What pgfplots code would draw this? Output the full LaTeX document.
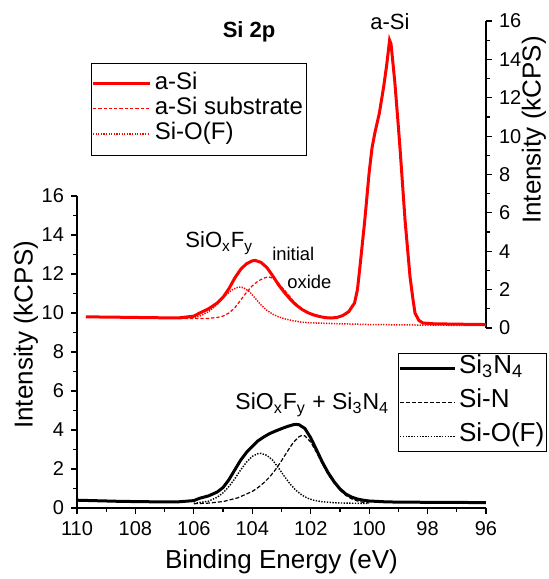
\documentclass[border=0pt]{standalone}
\usepackage{fontspec}
\setmainfont{Liberation Sans}
\usepackage{pgfplots}
\pgfplotsset{compat=1.18}
\usepackage{pgfplotstable}

% ---- black (Si3N4) series, left axis ----
\pgfplotstableread{
E V
110.0 0.40
109.5 0.38
109.0 0.36
108.5 0.34
108.0 0.33
107.5 0.32
107.0 0.31
106.5 0.32
106.0 0.38
105.8 0.50
105.5 0.62
105.2 0.82
105.0 1.05
104.8 1.45
104.6 1.95
104.4 2.45
104.2 2.85
104.0 3.15
103.8 3.45
103.6 3.65
103.4 3.82
103.2 3.95
103.0 4.07
102.8 4.18
102.6 4.27
102.5 4.29
102.4 4.27
102.2 4.08
102.0 3.60
101.8 2.98
101.6 2.35
101.4 1.80
101.2 1.35
101.0 0.98
100.8 0.72
100.6 0.56
100.4 0.46
100.2 0.40
100.0 0.36
99.5 0.32
99.0 0.30
98.5 0.30
98.0 0.29
97.5 0.29
97.0 0.29
96.5 0.28
96.0 0.28
}\tabSiN

\pgfplotstableread{
E V
106.0 0.22
105.5 0.25
105.0 0.33
104.5 0.52
104.0 0.85
103.8 1.05
103.6 1.30
103.4 1.60
103.2 1.98
103.0 2.42
102.8 2.90
102.6 3.35
102.4 3.66
102.3 3.72
102.2 3.70
102.0 3.38
101.8 2.85
101.6 2.25
101.4 1.72
101.2 1.28
101.0 0.92
100.8 0.65
100.6 0.47
100.4 0.36
100.2 0.29
100.0 0.26
}\tabSiNcomp

\pgfplotstableread{
E V
106.0 0.24
105.5 0.35
105.2 0.55
105.0 0.78
104.8 1.10
104.6 1.50
104.4 1.95
104.2 2.35
104.0 2.65
103.8 2.79
103.7 2.80
103.5 2.70
103.3 2.45
103.1 2.05
102.9 1.62
102.7 1.22
102.5 0.90
102.3 0.66
102.1 0.50
101.9 0.40
101.6 0.32
101.2 0.27
100.8 0.25
100.4 0.24
100.0 0.23
}\tabSiOblack

% ---- red (a-Si) series, right axis ----
\pgfplotstableread{
E V
109.7 0.58
109.0 0.57
108.5 0.56
108.0 0.55
107.5 0.54
107.0 0.53
106.5 0.53
106.0 0.62
105.8 0.78
105.5 1.00
105.2 1.30
105.0 1.60
104.8 2.05
104.6 2.60
104.4 3.05
104.2 3.35
104.0 3.50
103.9 3.52
103.7 3.42
103.5 3.15
103.3 2.72
103.1 2.25
102.9 1.85
102.7 1.50
102.5 1.20
102.3 0.97
102.1 0.80
101.9 0.68
101.7 0.60
101.5 0.54
101.3 0.52
101.1 0.55
100.9 0.65
100.7 0.85
100.5 1.30
100.4 2.00
100.3 3.40
100.15 5.60
100.0 8.10
99.9 9.40
99.8 10.20
99.65 11.20
99.5 12.60
99.4 13.70
99.3 15.00
99.25 14.80
99.12 12.80
99.0 10.50
98.94 9.30
98.77 5.60
98.6 2.66
98.5 1.50
98.43 0.78
98.3 0.40
98.16 0.26
97.8 0.22
97.0 0.20
96.0 0.18
}\tabASi

\pgfplotstableread{
E V
106.5 0.50
106.0 0.50
105.5 0.50
105.2 0.55
105.0 0.62
104.8 0.78
104.6 1.05
104.4 1.45
104.2 1.85
104.0 2.20
103.8 2.45
103.6 2.60
103.45 2.67
103.3 2.60
103.15 2.42
103.0 2.15
102.8 1.80
102.6 1.42
102.4 1.12
102.2 0.90
102.0 0.76
101.8 0.66
101.6 0.59
101.4 0.55
101.2 0.54
101.0 0.57
}\tabSub

\pgfplotstableread{
E V
106.5 0.50
106.0 0.54
105.8 0.62
105.5 0.85
105.3 1.10
105.1 1.40
104.9 1.72
104.7 1.98
104.5 2.12
104.4 2.13
104.3 2.10
104.1 1.90
103.9 1.55
103.7 1.20
103.5 0.92
103.3 0.72
103.1 0.58
102.9 0.48
102.6 0.38
102.3 0.30
102.0 0.27
101.0 0.22
100.0 0.18
98.0 0.15
96.0 0.13
}\tabSiOred

\pgfplotsset{
  commonstyle/.style={
    scale only axis, width=204.5pt,
    xmin=96, xmax=110, x dir=reverse,
    ymin=0, ymax=16,
    ytick={0,2,...,16}, minor y tick num=1,
    axis line style={-, line width=0.65pt},
    tick style={black, line width=0.6pt},
    major tick length=3pt, minor tick length=1.8pt,
    /pgf/number format/assume math mode=true,
    tick label style={font=\fontsize{10}{12}\selectfont},
    label style={font=\fontsize{13}{15}\selectfont},
    legend cell align=left,
  },
}

\begin{document}
\begin{tikzpicture}
\useasboundingbox (-38.5pt,-35.5pt) rectangle (236pt,254pt);

% ---------------- lower (black) axis ----------------
\begin{axis}[
  commonstyle, height=156pt,
  axis x line*=bottom, axis y line*=left,
  tick align=outside,
  xtick={96,98,...,110}, minor x tick num=1,
  xlabel={Binding Energy (eV)},
  ylabel={Intensity (kCPS)},
  xlabel style={at={(rel axis cs:0.5,-0.173)}, anchor=center},
  ylabel style={at={(rel axis cs:-0.1247,0.555)}, anchor=center},
  legend image code/.code={\draw[#1] (0pt,0pt) -- (27.5pt,0pt);},
  legend style={at={(rel axis cs:0.785,0.497)}, anchor=north west,
    draw=black, line width=0.5pt, fill=white,
    font=\fontsize{13}{15}\selectfont,
    inner xsep=0pt, inner ysep=1.5pt, row sep=5pt, column sep=0pt,
    nodes={inner xsep=1.25pt, inner ysep=1pt, text height=0.75em, text depth=0.25em}},
]
\addlegendimage{black, line width=1.5pt}
\addlegendentry{Si\textsubscript{3}N\textsubscript{4}}
\addlegendimage{black, line width=0.6pt, dash pattern=on 2pt off 1pt}
\addlegendentry{Si-N}
\addlegendimage{black, line width=0.7pt, dash pattern=on 0.7pt off 0.7pt}
\addlegendentry{Si-O(F)}

\addplot[black, line width=0.6pt, dash pattern=on 2pt off 1pt, forget plot] table[x=E,y=V] {\tabSiNcomp};
\addplot[black, line width=0.7pt, dash pattern=on 0.7pt off 0.7pt, forget plot] table[x=E,y=V] {\tabSiOblack};
\addplot[black, line width=1.5pt, forget plot] table[x=E,y=V] {\tabSiN};

\node[anchor=base west, font=\fontsize{11.5}{13}\selectfont, inner sep=0pt]
  at (axis cs:104.59,5.03) {SiO\textsubscript{x}F\textsubscript{y} + Si\textsubscript{3}N\textsubscript{4}};
\end{axis}

% ---------------- upper (red) axis ----------------
\begin{axis}[
  commonstyle, height=153.5pt, at={(0pt,90pt)},
  clip mode=individual,
  axis x line=none, axis y line*=right,
  tick align=outside,
  ylabel={Intensity (kCPS)},
  ylabel style={at={(rel axis cs:1.117,0.645)}, anchor=center},
  legend image code/.code={\draw[red,#1] (0pt,0.4pt) -- (28.5pt,0.4pt);},
  legend style={at={(rel axis cs:0.034,0.863)}, anchor=north west,
    draw=black, line width=0.5pt, fill=white,
    font=\fontsize{12}{14}\selectfont,
    inner xsep=0pt, inner ysep=4.5pt, row sep=0.5pt, column sep=0pt,
    nodes={inner xsep=1.75pt, inner ysep=1pt, text height=0.75em, text depth=0.25em}},
]
\addlegendimage{red, line width=1.5pt}
\addlegendentry{a-Si}
\addlegendimage{red, line width=0.7pt, dash pattern=on 1.65pt off 1pt}
\addlegendentry{a-Si substrate}
\addlegendimage{red, line width=0.75pt, dash pattern=on 0.65pt off 0.65pt}
\addlegendentry{Si-O(F)}

\addplot[red, line width=0.6pt, dash pattern=on 1.65pt off 1pt, forget plot] table[x=E,y=V] {\tabSub};
\addplot[red, line width=0.75pt, dash pattern=on 0.65pt off 0.65pt, forget plot] table[x=E,y=V] {\tabSiOred};
\addplot[red, line width=1.5pt, forget plot] table[x=E,y=V] {\tabASi};

\node[font=\bfseries\fontsize{11}{13}\selectfont] at (axis cs:104.11,15.42) {Si 2p};
\node[anchor=base, font=\fontsize{11}{13}\selectfont, inner sep=0pt] at (axis cs:99.29,15.58) {a-Si};
\node[anchor=base west, font=\fontsize{11}{13}\selectfont, inner sep=0pt]
  at (axis cs:106.30,4.17) {SiO\textsubscript{x}F\textsubscript{y}};
\node[anchor=base west, font=\fontsize{9.2}{11}\selectfont, inner sep=0pt]
  at (axis cs:103.33,3.54) {initial};
\node[anchor=base west, font=\fontsize{9.2}{11}\selectfont, inner sep=0pt]
  at (axis cs:102.81,2.08) {oxide};
\end{axis}
\end{tikzpicture}
\end{document}
